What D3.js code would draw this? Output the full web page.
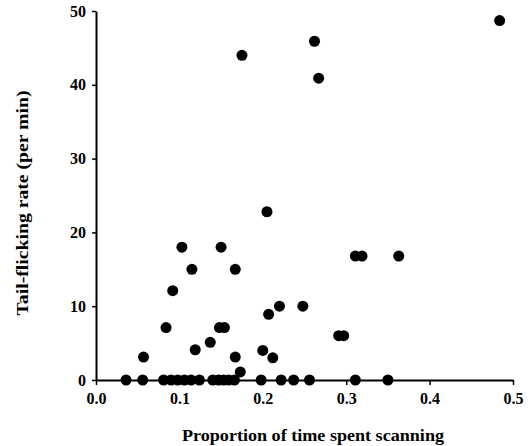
<!DOCTYPE html>
<html><head><meta charset="utf-8">
<script src="https://cdn.jsdelivr.net/npm/d3@7"></script>
<style>body{margin:0;background:#fff}svg{display:block}</style>
</head><body>
<script>
const scanProportion = [0.175,0.484,0.262,0.267,0.205,0.103,0.150,0.115,0.167,0.092,0.220,0.248,0.207,0.084,0.148,0.154,0.137,0.119,0.200,0.057,0.167,0.212,0.173,0.311,0.319,0.363,0.291,0.297,
 0.036,0.056,0.081,0.090,0.098,0.106,0.114,0.124,0.140,0.147,0.153,0.159,0.166,0.198,0.222,0.237,0.256,0.311,0.350];
const tailRate = [44,48.7,45.9,40.9,22.8,18,18,15,15,12.1,10,10,8.9,7.1,7.1,7.1,5.1,4.1,4,3.1,3.1,3,1.1,16.8,16.8,16.8,6,6,
 0,0,0,0,0,0,0,0,0,0,0,0,0,0,0,0,0,0,0];
const xTicks = [0,0.1,0.2,0.3,0.4,0.5];
const yTicks = [0,10,20,30,40,50];
const xTitle = "Proportion of time spent scanning";
const yTitle = "Tail-flicking rate (per min)";

const W=531,H=446;
const svg=d3.select("body").append("svg").attr("width",W).attr("height",H);
const x=d3.scaleLinear().domain([0,0.5]).range([96,513]);
const y=d3.scaleLinear().domain([0,50]).range([380,11]);
const font="'Liberation Serif','Times New Roman',serif";

const xa=svg.append("g").attr("transform","translate(0,380)")
 .call(d3.axisBottom(x).tickValues(xTicks).tickFormat(d3.format(".1f")).tickSize(5).tickSizeOuter(0).tickPadding(8));
const ya=svg.append("g").attr("transform","translate(96,0)")
 .call(d3.axisLeft(y).tickValues(yTicks).tickFormat(d3.format("d")).tickSize(4).tickSizeOuter(0).tickPadding(6));
[xa,ya].forEach(a=>{
 a.select(".domain").attr("stroke","#000").attr("stroke-width",2);
 a.selectAll(".tick line").attr("stroke","#000").attr("stroke-width",1.5);
 a.selectAll(".tick text").attr("fill","#000").style("font-family",font).style("font-weight","bold").style("font-size","16px");
});

svg.append("g").selectAll("circle").data(scanProportion).join("circle")
 .attr("cx",d=>x(d)).attr("cy",(d,i)=>y(tailRate[i])).attr("r",5.5).attr("fill","#000");

svg.append("text").attr("x",313).attr("y",441).attr("text-anchor","middle")
 .attr("textLength",262).attr("lengthAdjust","spacingAndGlyphs")
 .style("font-family",font).style("font-weight","bold").style("font-size","16px").text(xTitle);
svg.append("text").attr("transform","translate(28,203) rotate(-90)").attr("text-anchor","middle")
 .attr("textLength",225).attr("lengthAdjust","spacingAndGlyphs")
 .style("font-family",font).style("font-weight","bold").style("font-size","16px").text(yTitle);
</script>
</body></html>
